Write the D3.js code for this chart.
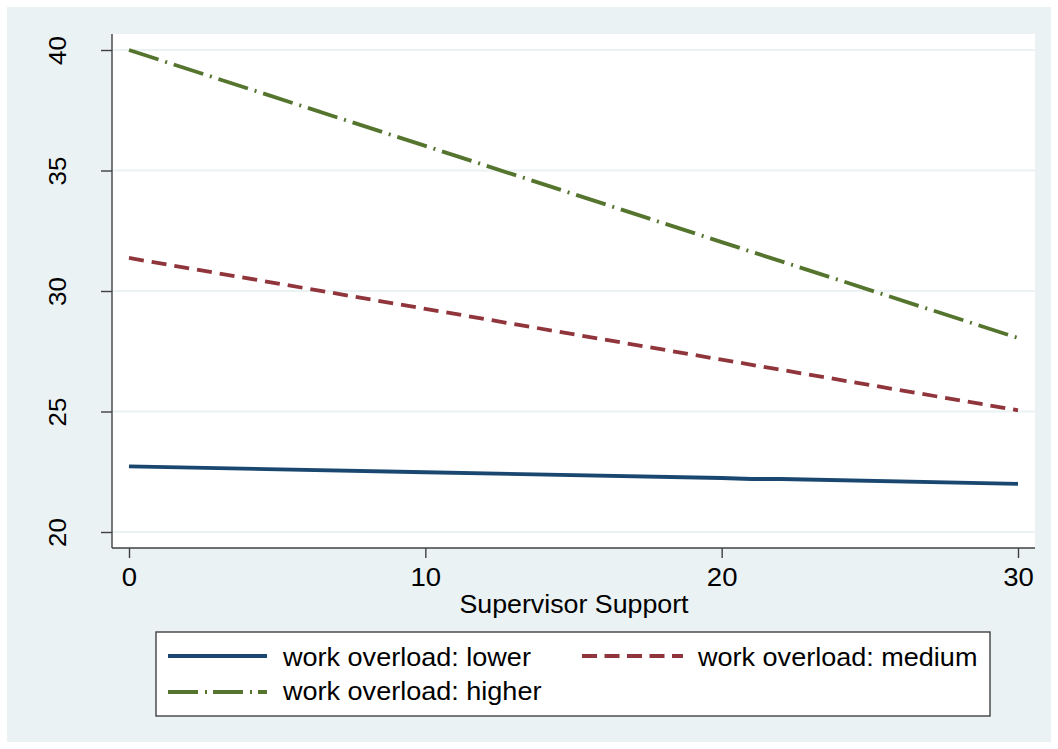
<!DOCTYPE html>
<html><head><meta charset="utf-8">
<script src="https://cdn.jsdelivr.net/npm/d3@7"></script>
<style>
html,body{margin:0;padding:0;background:#fff;}
svg{display:block;font-family:"Liberation Sans",Arial,sans-serif;}
</style></head>
<body>
<svg id="chart" width="1058" height="749"></svg>
<script>
const xTicks = [0, 10, 20, 30];
const yTicks = [20, 25, 30, 35, 40];
const xLower = [0, 10, 20, 21, 22, 30];
const lowerVals = [22.72, 22.48, 22.24, 22.2, 22.2, 22.0];
const xMedium = [0, 10, 20, 30];
const mediumVals = [31.37, 29.26, 27.15, 25.05];
const xHigher = [0, 10, 20, 30];
const higherVals = [40.0, 36.02, 32.03, 28.05];
const seriesNames = ["work overload: lower", "work overload: medium", "work overload: higher"];
const xTitle = "Supervisor Support";

const svg = d3.select("#chart");
const bg = "#eaf2f3";
svg.append("rect").attr("x",7).attr("y",7).attr("width",1044).attr("height",735).attr("fill",bg);

const plot = {left:112, top:34, right:1035, bottom:548};
svg.append("rect").attr("x",plot.left).attr("y",plot.top)
  .attr("width",plot.right-plot.left).attr("height",plot.bottom-plot.top).attr("fill","#fff");

const x = d3.scaleLinear().domain([0,30]).range([129,1018]);
const y = d3.scaleLinear().domain([20,40]).range([532,50]);

// grid
svg.append("g").selectAll("line").data(yTicks).join("line")
  .attr("x1",plot.left).attr("x2",plot.right)
  .attr("y1",d=>y(d)).attr("y2",d=>y(d))
  .attr("stroke",bg).attr("stroke-width",2);

const axisColor = "#404040";
// y axis
const yAxis = svg.append("g").attr("transform",`translate(${plot.left},0)`)
  .call(d3.axisLeft(y).tickValues(yTicks).tickSize(11).tickPadding(0).tickFormat(d3.format("d")));
yAxis.select(".domain").remove();
yAxis.selectAll(".tick line").attr("stroke",axisColor).attr("stroke-width",1.4);
yAxis.selectAll(".tick text").attr("font-size",24).attr("fill","#000")
  .attr("transform","translate(-55,0) rotate(-90) scale(1.08,1)").attr("text-anchor","middle").attr("dy","0.36em").attr("x",0);
svg.append("line").attr("x1",plot.left).attr("x2",plot.left).attr("y1",plot.top).attr("y2",plot.bottom)
  .attr("stroke",axisColor).attr("stroke-width",1.4);

// x axis
const xAxis = svg.append("g").attr("transform",`translate(0,${plot.bottom})`)
  .call(d3.axisBottom(x).tickValues(xTicks).tickSize(10).tickPadding(10).tickFormat(d3.format("d")));
xAxis.select(".domain").remove();
xAxis.selectAll(".tick line").attr("stroke",axisColor).attr("stroke-width",1.4);
xAxis.selectAll(".tick text").attr("font-size",26).attr("fill","#000")
  .attr("transform","scale(1.06,1)");
svg.append("line").attr("x1",plot.left).attr("x2",plot.right).attr("y1",plot.bottom).attr("y2",plot.bottom)
  .attr("stroke",axisColor).attr("stroke-width",1.4);

svg.append("text").attr("transform","translate(574,613) scale(1.03,1)").attr("text-anchor","middle")
  .attr("font-size",26).attr("fill","#000").text(xTitle);

const styles = [
  {color:"#1a476f", dash:null},
  {color:"#90353b", dash:"15,8"},
  {color:"#55752f", dash:"31,7,2,7"}
];
const line = d3.line().x(d=>x(d[0])).y(d=>y(d[1]));
const datasets = [
  d3.zip(xLower, lowerVals),
  d3.zip(xMedium, mediumVals),
  d3.zip(xHigher, higherVals)
];
datasets.forEach((data,i)=>{
  svg.append("path").datum(data).attr("d",line).attr("fill","none")
    .attr("stroke",styles[i].color).attr("stroke-width",3.8)
    .attr("stroke-dasharray",styles[i].dash);
});

// legend
svg.append("rect").attr("x",156).attr("y",632).attr("width",834).attr("height",84)
  .attr("fill","#fff").attr("stroke",axisColor).attr("stroke-width",1.4);
const legendItems = [
  {i:0, x1:168, x2:267, tx:283, ly:656, ty:666},
  {i:1, x1:582, x2:683, tx:698, ly:656, ty:666},
  {i:2, x1:168, x2:267, tx:283, ly:692, ty:700}
];
const legDash = [null, "15,7.5", "30,7,2,6"];
legendItems.forEach(it=>{
  svg.append("text").attr("transform",`translate(${it.tx},${it.ty}) scale(1.04,1)`)
    .attr("font-size",26).attr("fill","#000").text(seriesNames[it.i]);
  svg.append("line").attr("x1",it.x1).attr("x2",it.x2).attr("y1",it.ly).attr("y2",it.ly)
    .attr("stroke",styles[it.i].color).attr("stroke-width",3.8).attr("stroke-dasharray",legDash[it.i]);
});
</script>
</body></html>
